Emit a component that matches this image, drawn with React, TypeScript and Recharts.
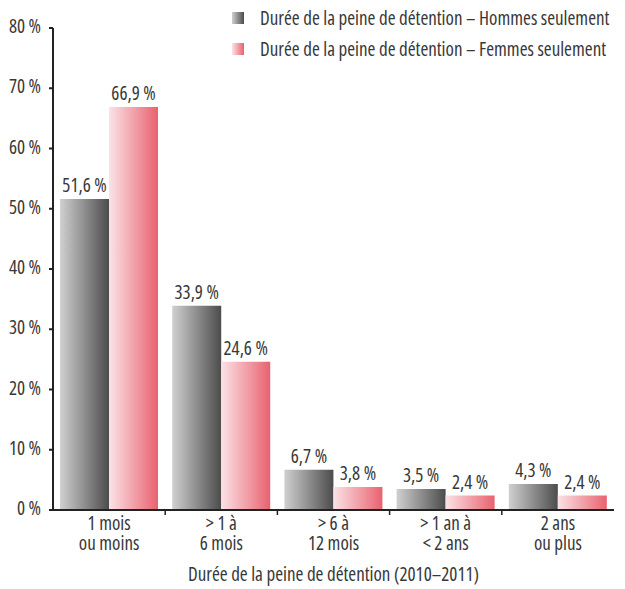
import { Bar, BarChart, LabelList, XAxis, YAxis } from 'recharts';

const categories = ['1 mois|ou moins', '> 1 à|6 mois', '> 6 à|12 mois', '> 1 an à|< 2 ans', '2 ans|ou plus'];
const hommes = [51.6, 33.9, 6.7, 3.5, 4.3];
const femmes = [66.9, 24.6, 3.8, 2.4, 2.4];
const yTicks = [0, 10, 20, 30, 40, 50, 60, 70, 80];

const seriesNames = {
  hommes: 'Durée de la peine de détention – Hommes seulement',
  femmes: 'Durée de la peine de détention – Femmes seulement',
};

const data = categories.map((c, i) => ({ cat: c, hommes: hommes[i], femmes: femmes[i] }));

const FONT = '"Open Sans", sans-serif';
const TEXT = '#383838';
const FS = 19;
const STRETCH = '87.5%';
const W = 625;
const H = 589;
const MARGIN = { top: 28, right: 11, bottom: 34, left: 8 };
const Y_WIDTH = 45;
const STEP = (W - MARGIN.left - MARGIN.right - Y_WIDTH) / categories.length;

const textStyle = { fontFamily: FONT, fontSize: FS, fontStretch: STRETCH, fontWeight: 400 } as const;
const pct = (v: number) => `${v.toFixed(1).replace('.', ',')} %`;

function CatTick({ x, y, payload, index }: any) {
  const [a, b] = String(payload.value).split('|');
  const left = x - STEP / 2;
  return (
    <g>
      {index > 0 && <line x1={left} x2={left} y1={y - 8} y2={y - 3} stroke="#222" strokeWidth={1.5} />}
      <text x={x} y={y + 12} textAnchor="middle" style={textStyle} fill={TEXT}>{a}</text>
      <text x={x} y={y + 32} textAnchor="middle" style={textStyle} fill={TEXT}>{b}</text>
    </g>
  );
}

function TopLabel({ x, y, width, value }: any) {
  return (
    <text x={x + width / 2} y={y - 7} textAnchor="middle" style={textStyle} fill={TEXT}>
      {pct(Number(value))}
    </text>
  );
}

function YTick({ x, y, payload }: any) {
  return (
    <text x={x} y={y} dy={5} textAnchor="end" style={textStyle} fill={TEXT}>
      {`${payload.value} %`}
    </text>
  );
}

function LegendBox() {
  const items = [
    { key: 'hommes', grad: 'linear-gradient(to right, #d0d0d0, #4c4c4c)' },
    { key: 'femmes', grad: 'linear-gradient(to right, #fbe2e6, #e8626f)' },
  ];
  return (
    <div style={{ position: 'absolute', left: 232, top: 2, ...textStyle, color: TEXT, whiteSpace: 'nowrap' }}>
      {items.map((it) => (
        <div key={it.key} style={{ display: 'flex', alignItems: 'center', height: 31 }}>
          <span style={{ width: 12, height: 12, background: it.grad, marginRight: 16, display: 'inline-block' }} />
          <span>{seriesNames[it.key as 'hommes' | 'femmes']}</span>
        </div>
      ))}
    </div>
  );
}

export default function App() {
  return (
    <div style={{ position: 'absolute', left: 0, top: 0, width: W, height: H, background: '#fff' }}>
      <BarChart width={W} height={H} data={data} margin={MARGIN} barCategoryGap="6.25%" barGap={0}>
        <defs>
          <linearGradient id="gHommes" x1="0" y1="0" x2="1" y2="0">
            <stop offset="0%" stopColor="#d0d0d0" />
            <stop offset="100%" stopColor="#4c4c4c" />
          </linearGradient>
          <linearGradient id="gFemmes" x1="0" y1="0" x2="1" y2="0">
            <stop offset="0%" stopColor="#fbe2e6" />
            <stop offset="100%" stopColor="#e8626f" />
          </linearGradient>
        </defs>
        <YAxis
          width={Y_WIDTH}
          domain={[0, 80]}
          ticks={yTicks}
          interval={0}
          tick={<YTick />}
          axisLine={{ stroke: '#222', strokeWidth: 2 }}
          tickLine={{ stroke: '#222', strokeWidth: 2 }}
          tickSize={4}
          tickMargin={8}
        />
        <XAxis
          dataKey="cat"
          interval={0}
          height={45}
          tick={<CatTick />}
          tickLine={false}
          axisLine={{ stroke: '#222', strokeWidth: 2 }}
          label={{
            value: 'Durée de la peine de détention (2010–2011)',
            position: 'insideBottom',
            offset: -26,
            style: textStyle,
            fill: TEXT,
          }}
        />
        <Bar dataKey="hommes" fill="url(#gHommes)" isAnimationActive={false}>
          <LabelList dataKey="hommes" content={<TopLabel />} />
        </Bar>
        <Bar dataKey="femmes" fill="url(#gFemmes)" isAnimationActive={false}>
          <LabelList dataKey="femmes" content={<TopLabel />} />
        </Bar>
      </BarChart>
      <LegendBox />
    </div>
  );
}
